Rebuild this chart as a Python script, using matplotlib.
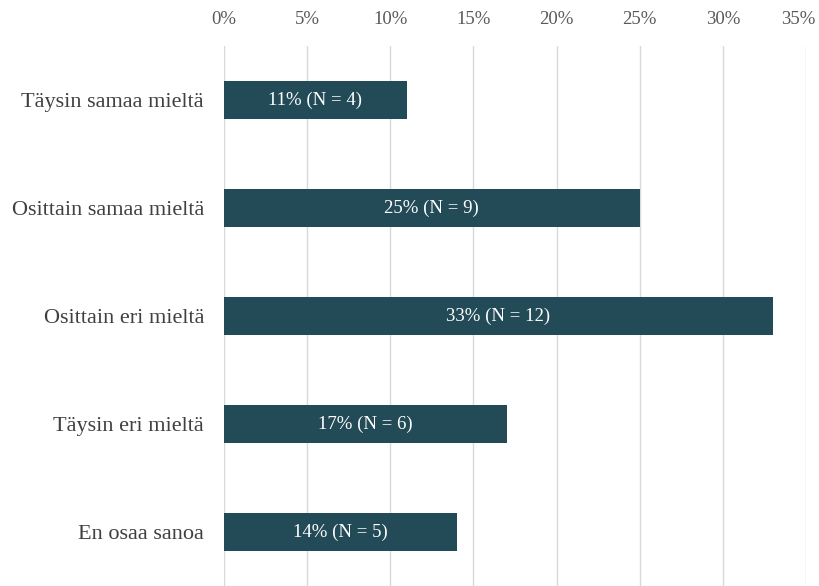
import matplotlib
matplotlib.use("Agg")
import matplotlib.pyplot as plt
from matplotlib.ticker import FuncFormatter
from matplotlib.transforms import ScaledTranslation

categories = ["Täysin samaa mieltä", "Osittain samaa mieltä", "Osittain eri mieltä",
              "Täysin eri mieltä", "En osaa sanoa"]
percents = [11, 25, 33, 17, 14]
counts = [4, 9, 12, 6, 5]
xticks = [0, 5, 10, 15, 20, 25, 30, 35]

plt.rcParams["font.family"] = ["Liberation Serif", "DejaVu Serif"]

fig = plt.figure(figsize=(8.2, 5.86), dpi=100)
ax = fig.add_axes([224 / 820, 0.0, (806 - 224) / 820, 1 - 46 / 586])

ypos = list(range(len(categories)))
ax.barh(ypos, percents, height=0.36, color="#234b57", zorder=3)
for y, p, c in zip(ypos, percents, counts):
    ax.text(p / 2, y, f"{p}% (N = {c})", ha="center", va="center",
            color="white", fontsize=13.5, zorder=4)

ax.set_xlim(0, 35)
ax.set_ylim(len(categories) - 0.5, -0.5)
ax.set_xticks(xticks)
ax.xaxis.set_major_formatter(FuncFormatter(lambda v, p: f"{v:.0f}%"))
ax.xaxis.tick_top()
ax.set_yticks(ypos)
ax.set_yticklabels(categories)
ax.tick_params(axis="x", length=0, pad=13, labelsize=13.5, labelcolor="#595959")
ax.tick_params(axis="y", length=0, pad=14.4, labelsize=16, labelcolor="#404040")
for sp in ax.spines.values():
    sp.set_visible(False)
ax.grid(axis="x", color="#d9d9d9", linewidth=1, zorder=0)
ax.axvline(0, color="#c9d9ea", linewidth=1.2, zorder=1)

# keep the last top tick label inside the figure
last = ax.xaxis.get_major_ticks()[-1].label2
last.set_transform(last.get_transform() + ScaledTranslation(-8 / 100, 0, fig.dpi_scale_trans))

fig.savefig("out.png", dpi=100)
